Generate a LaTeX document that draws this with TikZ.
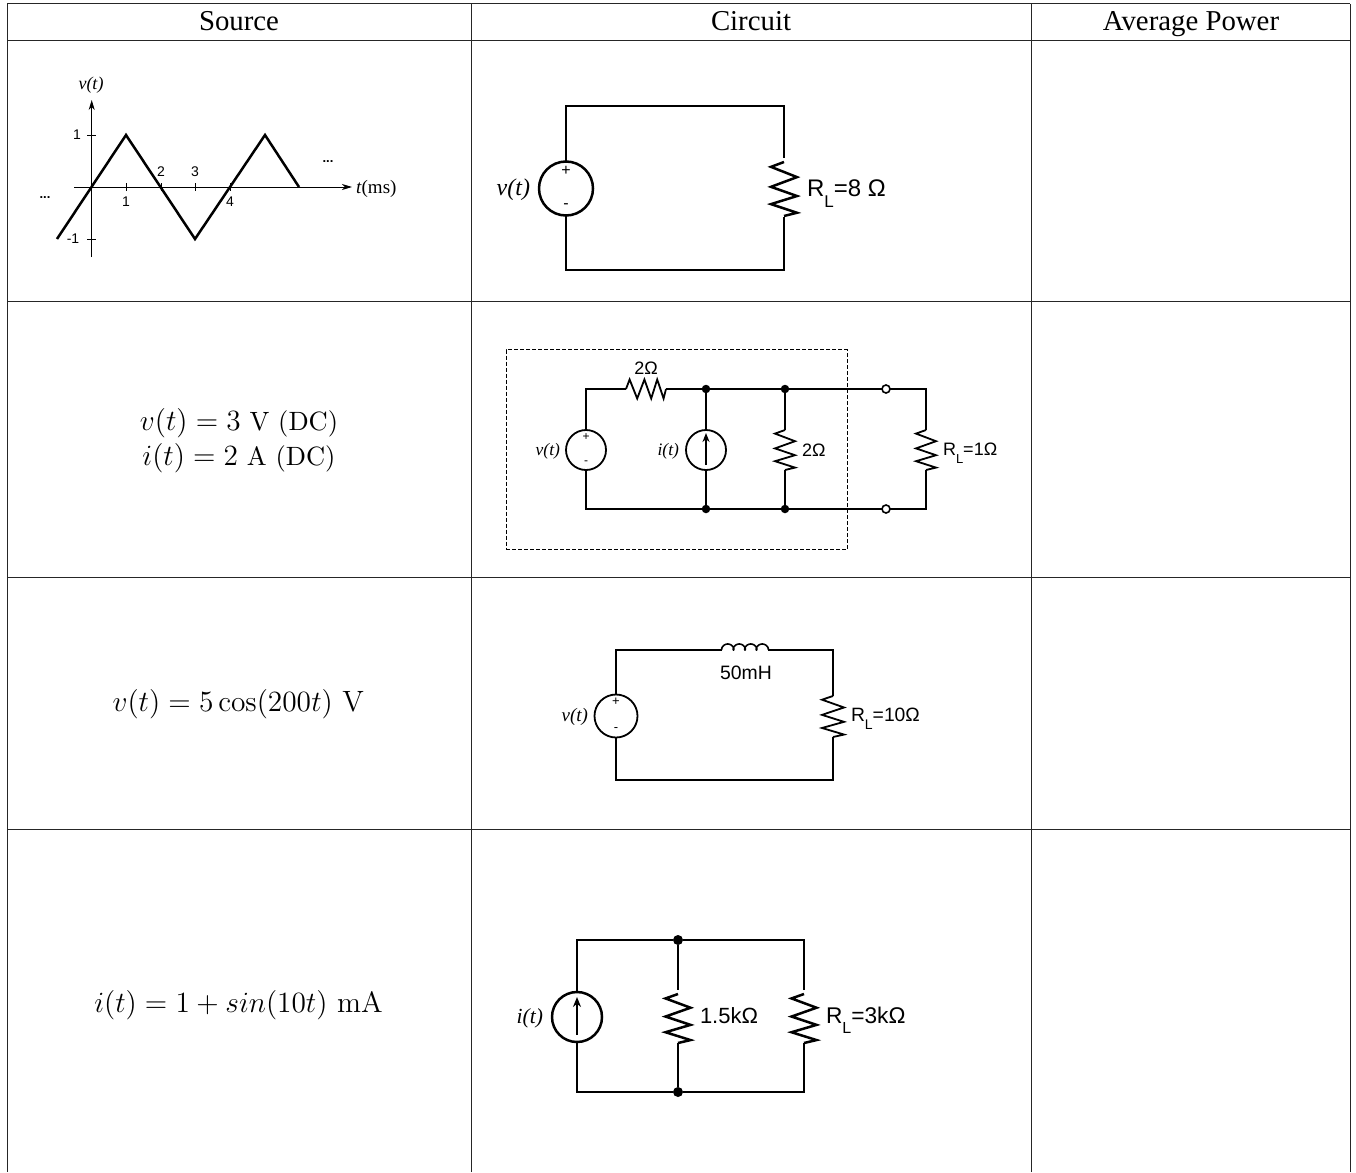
\documentclass[tikz,border=0pt]{standalone}
\usepackage{fix-cm}
\usepackage[no-math]{fontspec}
\usetikzlibrary{calc,arrows.meta}
\newfontfamily\arialf{Liberation Sans}
\newfontfamily\timesf{Liberation Serif}
\newcommand{\fsz}[1]{\fontsize{#1}{#1}\selectfont}
% zigzag resistor between two named coordinates
\newcommand{\zig}[5]{\draw[#5] (#1)
  -- ($(#1)!.09!(#2)!#3pt!#4:(#2)$)
  -- ($(#1)!.28!(#2)!#3pt!-#4:(#2)$)
  -- ($(#1)!.46!(#2)!#3pt!#4:(#2)$)
  -- ($(#1)!.63!(#2)!#3pt!-#4:(#2)$)
  -- ($(#1)!.78!(#2)!#3pt!#4:(#2)$)
  -- ($(#1)!.94!(#2)!#3pt!-#4:(#2)$)
  -- (#2);}
\newcommand{\RLtext}[3]{{\arialf\fsz{#1}R\raisebox{-.46em}{\fsz{#2}L}=#3}}
\newcommand{\bigmath}[1]{\scalebox{2.45}{\fsz{12}#1}}
\newcommand{\smalltxt}[1]{\mbox{\fsz{10.8}#1}}
\tikzset{
  grid line/.style={line width=1pt,black!85},
  wirea/.style={line width=2.5pt,line join=miter},
  wireb/.style={line width=1.8pt,line join=miter},
  srca/.style={circle,draw,line width=2.5pt,inner sep=0pt,outer sep=0pt},
  srcb/.style={circle,draw,line width=1.8pt,inner sep=0pt,outer sep=0pt},
  txt/.style={inner sep=0pt,outer sep=0pt},
  dot/.style={circle,fill=black,inner sep=0pt,outer sep=0pt},
  opendot/.style={circle,draw,fill=white,line width=1.6pt,inner sep=0pt,outer sep=0pt,minimum size=8pt},
  axisline/.style={line width=.9pt,-{Stealth[length=10pt,width=6pt,inset=3pt]}},
  tickline/.style={line width=.9pt},
  arrowa/.style={line width=2.4pt,-{Stealth[length=10pt,width=8pt]}},
  arrowb/.style={line width=1.8pt,-{Stealth[length=9pt,width=7pt]}}
}
\begin{document}
\begin{tikzpicture}[x=1pt,y=-1pt]
\path[use as bounding box,fill=white] (0,0) rectangle (1356,1172);
% table
\draw[grid line] (7,4) -- (1350,4);
\draw[grid line] (7,41) -- (1350,41);
\draw[grid line] (7,301) -- (1350,301);
\draw[grid line] (7,577) -- (1350,577);
\draw[grid line] (7,829) -- (1350,829);
\draw[grid line] (7,4) -- (7,1172);
\draw[grid line] (471,4) -- (471,1172);
\draw[grid line] (1031,4) -- (1031,1172);
\draw[grid line] (1350,4) -- (1350,1172);
\node[txt,anchor=base] (h1) at (239,31) {\timesf\fsz{28.8}Source};
\node[txt,anchor=base] (h2) at (751,31) {\timesf\fsz{28.8}Circuit};
\node[txt,anchor=base] (h3) at (1191,31) {\timesf\fsz{28.8}Average Power};
% source column text
\node[txt] (m1) at (239,423) {\bigmath{$v(t)=3$\smalltxt{ V (DC)}}};
\node[txt] (m2) at (239,458) {\bigmath{$i(t)=2$\smalltxt{ A (DC)}}};
\node[txt] (m3) at (238.5,704) {\bigmath{$v(t)=5\cos(200t)\ \mathrm{V}$}};
\node[txt] (m4) at (238.5,1005) {\bigmath{$i(t)=1+sin(10t)\ \mathrm{mA}$}};
% waveform
\coordinate (xa) at (74,187); \coordinate (xb) at (352,187);
\coordinate (ya) at (91.7,257); \coordinate (yb) at (91.7,100);
\draw[axisline] (xa) -- (xb);
\draw[axisline] (ya) -- (yb);
\draw[tickline] (126,183) -- (126,191);
\draw[tickline] (161,183) -- (161,191);
\draw[tickline] (195,183) -- (195,191);
\draw[tickline] (230,183) -- (230,191);
\draw[tickline] (87,135) -- (96,135);
\draw[tickline] (87,239) -- (96,239);
\draw[wirea] (57,239) -- (126,135) -- (195,239) -- (265,135) -- (299,187);
\node[txt] (gv) at (91,85) {\timesf\itshape\fsz{18}v(t)};
\node[txt,anchor=west] (gt) at (356,188.5) {\timesf\fsz{19}\textit{t}(ms)};
\node[txt] (g1) at (126,202) {\arialf\fsz{14}1};
\node[txt] (g2) at (161,172) {\arialf\fsz{14}2};
\node[txt] (g3) at (195,172) {\arialf\fsz{14}3};
\node[txt] (g4) at (230,202) {\arialf\fsz{14}4};
\node[txt] (gy1) at (77,135) {\arialf\fsz{14}1};
\node[txt] (gy2) at (73,239) {\arialf\fsz{14}-1};
\node[txt] (gd1) at (45,198) {\arialf\bfseries\fsz{13}...};
\node[txt] (gd2) at (328,162) {\arialf\bfseries\fsz{13}...};
% circuit 1
\node[srca,minimum size=54pt] (s1) at (566,188.5) {};
\coordinate (a1) at (566,106); \coordinate (a2) at (784,106);
\coordinate (a3) at (784,270); \coordinate (a4) at (566,270);
\coordinate (r1t) at (784,162); \coordinate (r1b) at (784,216);
\coordinate (r1w) at (784,158); \coordinate (r1v) at (784,217);
\draw[wirea] (s1.north) -- (a1) -- (a2) -- (r1w);
\draw[wirea] (r1v) -- (a3) -- (a4) -- (s1.south);
\zig{r1t}{r1b}{13}{-90}{wirea}
\node[txt,anchor=east] (s1l) at (530,190) {\timesf\itshape\fsz{24}v(t)};
\node[txt] (s1p) at (566,171) {\arialf\fsz{16}+};
\node[txt] (s1m) at (566,206) {\arialf\fsz{16}-};
\node[txt,anchor=base west] (r1l) at (807,196) {\RLtext{24}{17}{8 Ω}};
% circuit 2
\node[draw,dashed,line width=.8pt,dash pattern=on 4pt off 2pt,inner sep=0pt,outer sep=0pt,minimum width=341pt,minimum height=200pt] (box) at (676.5,449.5) {};
\node[srcb,minimum size=40pt] (s2) at (586,450) {};
\node[srcb,minimum size=40pt] (i2) at (706,450) {};
\coordinate (b1) at (586,389); \coordinate (b2) at (586,509);
\coordinate (r2a) at (626,389); \coordinate (r2b) at (666,389);
\node[dot,minimum size=8.5pt] (d1) at (706,389) {};
\node[dot,minimum size=8.5pt] (d2) at (785,389) {};
\node[dot,minimum size=8.5pt] (d3) at (706,509) {};
\node[dot,minimum size=8.5pt] (d4) at (785,509) {};
\node[opendot] (o1) at (886,389) {};
\node[opendot] (o2) at (886,509) {};
\coordinate (b3) at (926,389); \coordinate (b4) at (926,509);
\coordinate (r3t) at (785,430); \coordinate (r3b) at (785,470);
\coordinate (r4t) at (926,430); \coordinate (r4b) at (926,470);
\draw[wireb] (s2.north) -- (b1) -- (r2a);
\draw[wireb] (r2b) -- (d1) -- (d2) -- (o1) -- (b3) -- (r4t);
\draw[wireb] (r4b) -- (b4) -- (o2) -- (d4) -- (d3) -- (b2) -- (s2.south);
\draw[wireb] (d1) -- (i2.north);
\draw[wireb] (i2.south) -- (d3);
\draw[wireb] (d2) -- (r3t);
\draw[wireb] (r3b) -- (d4);
\zig{r2a}{r2b}{9.5}{90}{wireb}
\zig{r3t}{r3b}{10}{-90}{wireb}
\zig{r4t}{r4b}{10}{-90}{wireb}
\coordinate (i2a) at (706,465); \coordinate (i2b) at (706,433);
\draw[arrowb] (i2a) -- (i2b);
\node[txt,anchor=east] (s2l) at (560,451) {\timesf\itshape\fsz{17.5}v(t)};
\node[txt,anchor=east] (i2l) at (679,451) {\timesf\itshape\fsz{17.5}i(t)};
\node[txt] (s2p) at (586,437) {\arialf\fsz{12}+};
\node[txt] (s2m) at (586,463) {\arialf\fsz{12}-};
\node[txt] (r2l) at (646,368) {\arialf\fsz{18}2Ω};
\node[txt,anchor=west] (r3l) at (802,450) {\arialf\fsz{18}2Ω};
\node[txt,anchor=base west] (r4l) at (943,455) {\RLtext{18}{13}{1Ω}};
% circuit 3
\node[srcb,minimum size=43pt] (s3) at (616,716) {};
\coordinate (c1) at (616,650); \coordinate (c2) at (722,650);
\coordinate (c3) at (768,650); \coordinate (c4) at (833,650);
\coordinate (c5) at (833,780); \coordinate (c6) at (616,780);
\coordinate (r5t) at (833,696); \coordinate (r5b) at (833,737);
\draw[wireb] (s3.north) -- (c1) -- (c2);
\draw[wireb] (c3) -- (c4) -- (r5t);
\draw[wireb] (r5b) -- (c5) -- (c6) -- (s3.south);
\draw[line width=1.6pt] plot[domain=0:1440,samples=160,smooth] ({722+\x/1440*46-2.5*sin(\x)},{650-3*(1-cos(\x))});
\zig{r5t}{r5b}{11}{-90}{wireb}
\node[txt,anchor=east] (s3l) at (588,717) {\timesf\itshape\fsz{19}v(t)};
\node[txt] (s3p) at (616,702) {\arialf\fsz{13}+};
\node[txt] (s3m) at (616,730) {\arialf\fsz{13}-};
\node[txt] (l3) at (746,673) {\arialf\fsz{19.4}50mH};
\node[txt,anchor=base west] (r5l) at (851,721) {\RLtext{19.3}{14}{10Ω}};
% circuit 4
\node[srca,minimum size=50pt] (s4) at (577,1017) {};
\coordinate (e1) at (577,940); \coordinate (e2) at (804,940);
\coordinate (e3) at (804,1092); \coordinate (e4) at (577,1092);
\node[dot,minimum size=10pt] (e5) at (678,940) {};
\node[dot,minimum size=10pt] (e6) at (678,1092) {};
\coordinate (r6t) at (678,994); \coordinate (r6b) at (678,1043);
\coordinate (r6w) at (678,990); \coordinate (r7w) at (804,990);
\coordinate (r7t) at (804,994); \coordinate (r7b) at (804,1043);
\draw[wirea] (s4.north) -- (e1) -- (e5) -- (e2) -- (r7w);
\draw[wirea] (r7b) -- (e3) -- (e6) -- (e4) -- (s4.south);
\draw[wirea] (e5) -- (r6w);
\draw[wirea] (r6b) -- (e6);
\zig{r6t}{r6b}{12.5}{-90}{wirea}
\zig{r7t}{r7b}{12.5}{-90}{wirea}
\coordinate (i4a) at (577,1035); \coordinate (i4b) at (577,997);
\draw[arrowa] (i4a) -- (i4b);
\node[txt,anchor=east] (s4l) at (543,1018) {\timesf\itshape\fsz{21.5}i(t)};
\node[txt,anchor=west] (r6l) at (700,1016) {\arialf\fsz{22}1.5kΩ};
\node[txt,anchor=base west] (r7l) at (826,1023) {\RLtext{22.7}{16}{3kΩ}};
\end{tikzpicture}
\end{document}
